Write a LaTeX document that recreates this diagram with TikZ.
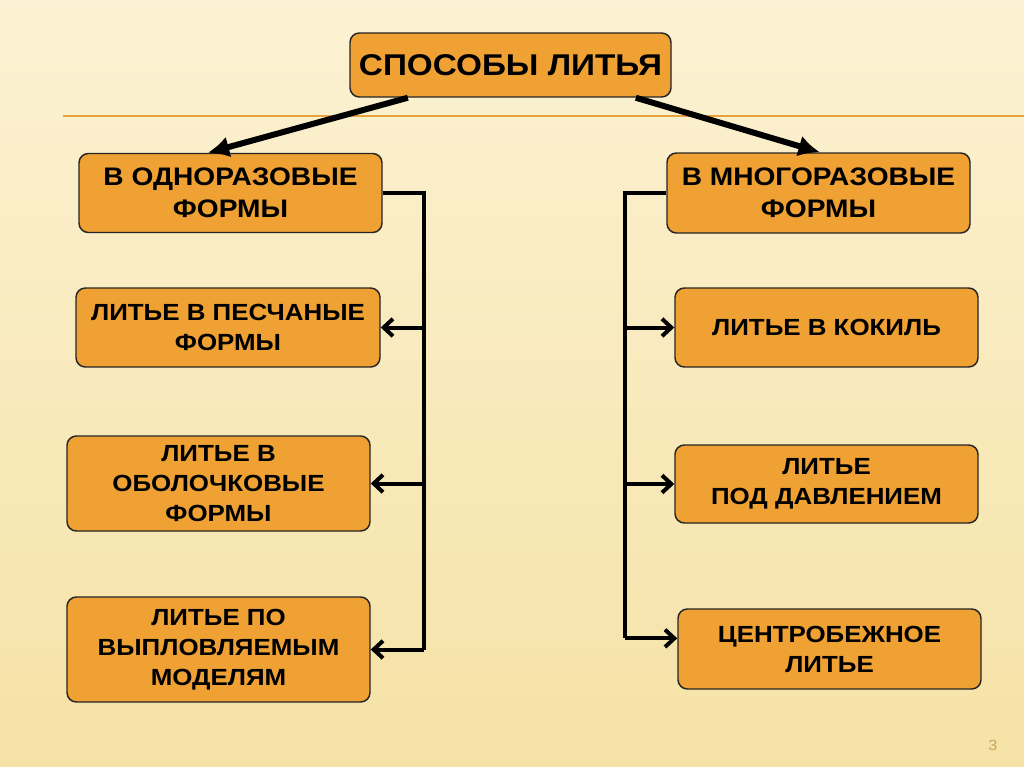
\documentclass[tikz,border=0pt]{standalone}
\usepackage{fontspec}
\setmainfont{Liberation Sans}[FakeStretch=1.11]
\usetikzlibrary{arrows.meta}
\definecolor{bgtop}{HTML}{FCF2D3}
\definecolor{bgbottom}{HTML}{F5E2A6}
\definecolor{boxorange}{HTML}{EFA133}
\definecolor{lineorange}{HTML}{E8A13C}
\definecolor{pagegold}{HTML}{C9A55A}
\tikzset{
  box/.style={draw=black!85, line width=1.1pt, rounded corners=7pt, fill=boxorange,
    align=center, inner sep=0pt, font=\bfseries\fontsize{17.5}{22.5}\selectfont},
  headbox/.style={box, font=\bfseries\fontsize{19}{24}\selectfont},
  thick arrow/.style={line width=4.5pt, -{Latex[length=16pt,width=16pt]}},
  bracket/.style={line width=3pt},
  branch/.style={line width=3pt, -{Straight Barb[length=7pt,width=13pt,line width=3pt]}}
}
\begin{document}
\begin{tikzpicture}[x=0.75pt,y=-0.75pt]
% background
\shade[top color=bgtop, bottom color=bgbottom] (0,0) rectangle (1024,767);
\useasboundingbox (0,0) rectangle (1024,767);
\draw[lineorange, line width=1.5pt] (63,116) -- (1024,116);

% title
\node[box, minimum width=240.75pt, minimum height=48pt,
  font=\bfseries\fontsize{22.5}{26}\selectfont] (title) at (510.5,65) {СПОСОБЫ ЛИТЬЯ};

% left column
\node[headbox, minimum width=227.25pt, minimum height=59.25pt] (l1) at (230.5,193) {В ОДНОРАЗОВЫЕ\\ФОРМЫ};
\node[box, minimum width=228pt, minimum height=59.25pt] (l2) at (228,327.5) {ЛИТЬЕ В ПЕСЧАНЫЕ\\ФОРМЫ};
\node[box, minimum width=227.25pt, minimum height=71.25pt] (l3) at (218.5,483.5) {ЛИТЬЕ В\\ОБОЛОЧКОВЫЕ\\ФОРМЫ};
\node[box, minimum width=227.25pt, minimum height=78.75pt] (l4) at (218.5,649.5) {ЛИТЬЕ ПО\\ВЫПЛОВЛЯЕМЫМ\\МОДЕЛЯМ};

% right column
\node[headbox, minimum width=227.25pt, minimum height=60pt] (r1) at (818.5,193) {В МНОГОРАЗОВЫЕ\\ФОРМЫ};
\node[box, minimum width=227.25pt, minimum height=59.25pt] (r2) at (826.5,327.5) {ЛИТЬЕ В КОКИЛЬ};
\node[box, minimum width=227.25pt, minimum height=58.5pt] (r3) at (826.5,484) {ЛИТЬЕ\\ПОД ДАВЛЕНИЕМ};
\node[box, minimum width=227.25pt, minimum height=60pt] (r4) at (829.5,649) {ЦЕНТРОБЕЖНОЕ\\ЛИТЬЕ};

% arrows from title
\draw[thick arrow] ([xshift=-77pt]title.south) -- ([xshift=-17pt]l1.north);
\draw[thick arrow] ([xshift=94pt]title.south) -- ([xshift=1pt]r1.north);

% left bracket
\coordinate (lx) at (424,0);
\draw[bracket] (l1.east) -| (lx |- l4.east);
\draw[branch] (lx |- l2.east) -- (l2.east);
\draw[branch] (lx |- l3.east) -- (l3.east);
\draw[branch] (lx |- l4.east) -- (l4.east);

% right bracket
\coordinate (rx) at (625,0);
\coordinate (r4in) at ([yshift=8pt]r4.west);
\draw[bracket] (r1.west) -| (rx |- r4in);
\draw[branch] (rx |- r2.west) -- (r2.west);
\draw[branch] (rx |- r3.west) -- (r3.west);
\draw[branch] (rx |- r4in) -- (r4in);

\node[text=pagegold, font=\fontsize{11}{13}\selectfont] (page) at (993,745) {3};
\end{tikzpicture}
\end{document}
